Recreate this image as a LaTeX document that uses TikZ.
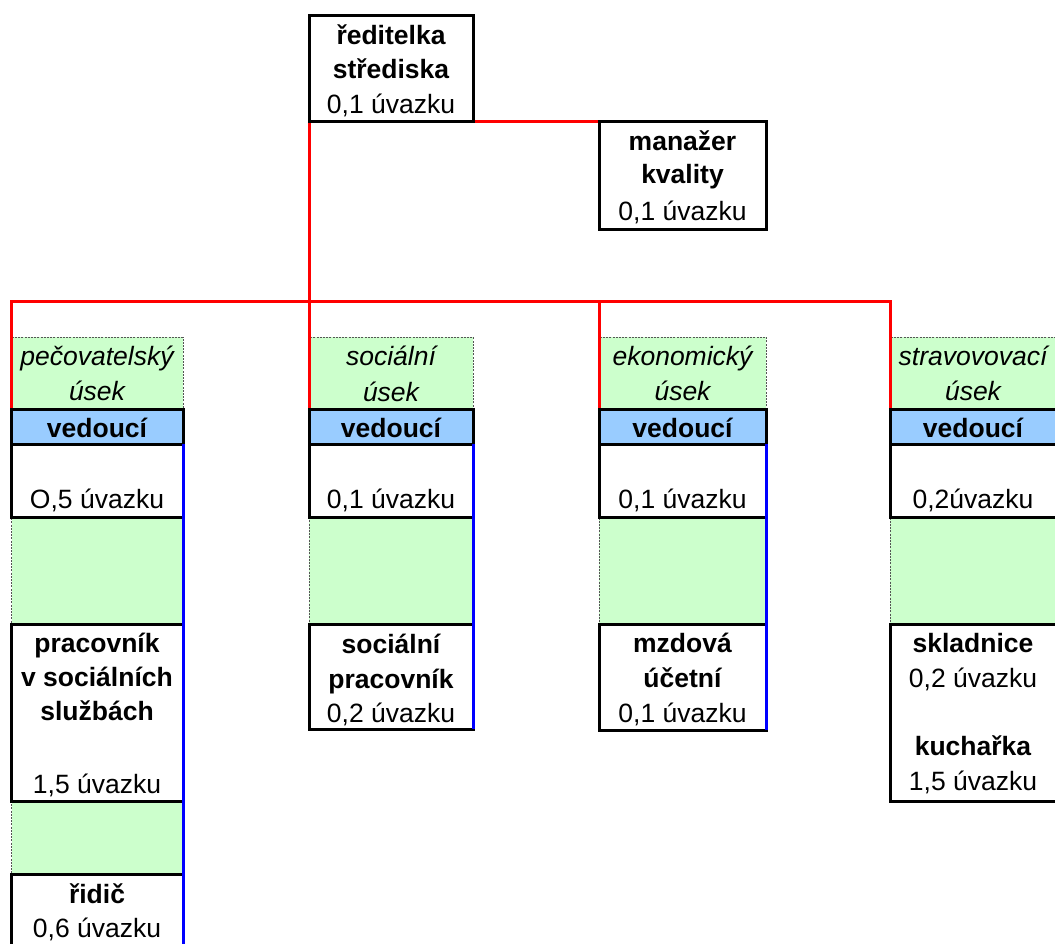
\documentclass[tikz,border=0pt]{standalone}
\usepackage{fontspec}
\setmainfont{Liberation Sans}
\definecolor{hgreen}{HTML}{CCFFCC}
\definecolor{vblue}{HTML}{99CCFF}
\definecolor{dgray}{HTML}{555555}
\newcommand\mkbox[6]{\node[#1, minimum width={(#5-#3)*1pt}, minimum height={(#6-#4)*1pt}] (#2) at ({(#3+#5)/2},{(#4+#6)/2}) {};}
\tikzset{
  cell/.style={rectangle, inner sep=0pt, outer sep=0pt},
  wbox/.style={cell, draw=black, line width=3pt, fill=white},
  vbox/.style={cell, draw=black, line width=3pt, fill=vblue},
  gbox/.style={cell, fill=hgreen, draw=dgray, line width=0.9pt, dash pattern=on 2pt off 1.2pt},
  txt/.style={anchor=base, inner sep=0pt, font=\fontsize{26.5}{30}\selectfont},
  btxt/.style={txt, font=\fontsize{26.5}{30}\selectfont\bfseries},
  itxt/.style={txt, font=\fontsize{26.5}{30}\selectfont\itshape},
  redl/.style={draw=red, line width=3pt},
  bluel/.style={draw=blue, line width=3pt},
}
\begin{document}
\begin{tikzpicture}[x=1pt,y=-1pt]
\useasboundingbox (0,0) rectangle (1055,943);
% green headers and spacers
\mkbox{gbox}{h1}{11.5}{337}{183}{409}
\mkbox{gbox}{h2}{309}{337}{473}{409}
\mkbox{gbox}{h3}{599}{337}{766}{409}
\mkbox{gbox}{h4}{890}{337}{1057}{409}
\mkbox{gbox}{g1}{11.5}{517}{183}{624}
\mkbox{gbox}{g2}{309}{517}{473}{624}
\mkbox{gbox}{g3}{599}{517}{766}{624}
\mkbox{gbox}{g4}{890}{517}{1057}{624}
\mkbox{gbox}{g1b}{11.5}{801}{183}{874}
% red connectors
\coordinate (busL) at (11.5,301);
\mkbox{wbox}{dir}{309}{15}{473}{121}
\mkbox{wbox}{man}{599}{121}{766}{229}
\mkbox{vbox}{v1}{11.5}{409}{183}{444}
\mkbox{vbox}{v2}{309}{409}{473}{444}
\mkbox{vbox}{v3}{599}{409}{766}{444}
\mkbox{vbox}{v4}{890}{409}{1057}{444}
\draw[redl] (dir.south east) -- (man.north west);
\draw[redl] (dir.south west) -- (v2.north west);
\draw[redl] (v1.north west) |- (v4.north west |- busL) -- (v4.north west);
\draw[redl] (v3.north west |- busL) -- (v3.north west);
% redraw boxes on top of red
\mkbox{wbox}{dirb}{309}{15}{473}{121}
\mkbox{wbox}{manb}{599}{121}{766}{229}
\mkbox{vbox}{v1b}{11.5}{409}{183}{444}
\mkbox{vbox}{v2b}{309}{409}{473}{444}
\mkbox{vbox}{v3b}{599}{409}{766}{444}
\mkbox{vbox}{v4b}{890}{409}{1057}{444}
% white boxes
\mkbox{wbox}{w1}{11.5}{444}{183}{517}
\mkbox{wbox}{w2}{309}{444}{473}{517}
\mkbox{wbox}{w3}{599}{444}{766}{517}
\mkbox{wbox}{w4}{890}{444}{1057}{517}
\mkbox{wbox}{p1}{11.5}{624}{183}{801}
\mkbox{wbox}{p2}{309}{624}{473}{729}
\mkbox{wbox}{p3}{599}{624}{766}{730}
\mkbox{wbox}{p4}{890}{624}{1057}{801}
\mkbox{wbox}{r1}{11.5}{874}{183}{990}
% blue lines
\draw[bluel] (v1b.south east) -- (r1.south east);
\draw[bluel] (v2b.south east) -- (p2.south east);
\draw[bluel] (v3b.south east) -- (p3.south east);
\draw[bluel] (v4b.south east) -- (p4.south east);
% texts: top
\node[btxt] (t01) at (391,44) {ředitelka};
\node[btxt] (t02) at (391,78) {střediska};
\node[txt]  (t03) at (391,113) {0,1 úvazku};
\node[btxt] (t04) at (682.5,150) {manažer};
\node[btxt] (t05) at (682.5,183) {kvality};
\node[txt]  (t06) at (682.5,220) {0,1 úvazku};
% column 1
\node[itxt] (a1) at (97,365) {pečovatelský};
\node[itxt] (a2) at (97,400) {úsek};
\node[btxt] (a3) at (97,437) {vedoucí};
\node[txt]  (a4) at (97,508) {O,5 úvazku};
\node[btxt] (a5) at (97,652) {pracovník};
\node[btxt] (a6) at (97,686) {v sociálních};
\node[btxt] (a7) at (97,720) {službách};
\node[txt]  (a8) at (97,793) {1,5 úvazku};
\node[btxt] (a9) at (97,903) {řidič};
\node[txt]  (a10) at (97,937) {0,6 úvazku};
% column 2
\node[itxt] (b1) at (391,365) {sociální};
\node[itxt] (b2) at (391,401) {úsek};
\node[btxt] (b3) at (391,437) {vedoucí};
\node[txt]  (b4) at (391,508) {0,1 úvazku};
\node[btxt] (b5) at (391,653) {sociální};
\node[btxt] (b6) at (391,688) {pracovník};
\node[txt]  (b7) at (391,722) {0,2 úvazku};
% column 3
\node[itxt] (c1) at (682.5,365) {ekonomický};
\node[itxt] (c2) at (682.5,400) {úsek};
\node[btxt] (c3) at (682.5,437) {vedoucí};
\node[txt]  (c4) at (682.5,508) {0,1 úvazku};
\node[btxt] (c5) at (682.5,652) {mzdová};
\node[btxt] (c6) at (682.5,687) {účetní};
\node[txt]  (c7) at (682.5,722) {0,1 úvazku};
% column 4
\node[itxt] (d1) at (973,365) {stravovovací};
\node[itxt] (d2) at (973,400) {úsek};
\node[btxt] (d3) at (973,437) {vedoucí};
\node[txt]  (d4) at (973,508) {0,2úvazku};
\node[btxt] (d5) at (973,652) {skladnice};
\node[txt]  (d6) at (973,687) {0,2 úvazku};
\node[btxt] (d7) at (973,755) {kuchařka};
\node[txt]  (d8) at (973,790) {1,5 úvazku};
\end{tikzpicture}
\end{document}
